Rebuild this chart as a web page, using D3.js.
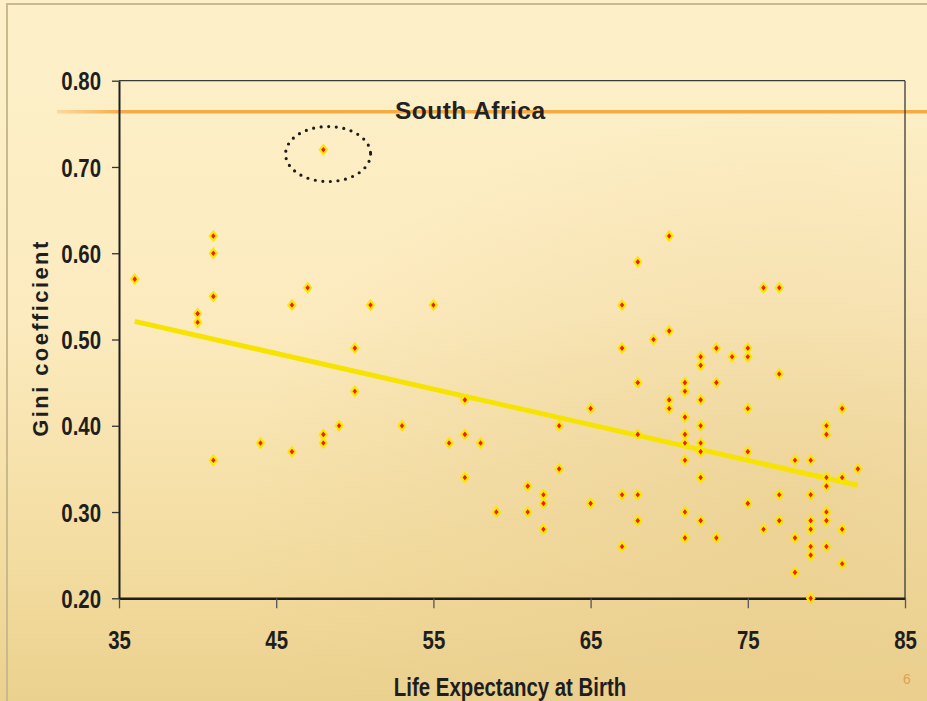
<!DOCTYPE html>
<html>
<head>
<meta charset="utf-8">
<script src="https://cdn.jsdelivr.net/npm/d3@7"></script>
<style>
  body { margin: 0; background: #fdf0c8; }
  svg { display: block; }
  .tick-label { font-family: "Liberation Sans", Arial, sans-serif; font-weight: bold; font-size: 25.5px; fill: #1e1e1e; }
</style>
</head>
<body>
<div id="chart"></div>
<script>
// life expectancy (years) and gini coefficient, one entry per country
const lifeExp = [
  36,
  40, 40,
  41, 41, 41, 41,
  44,
  46, 46,
  47,
  48, 48, 48,
  49,
  50, 50,
  51,
  53,
  55,
  56,
  57, 57, 57,
  58,
  59,
  61, 61,
  62, 62, 62,
  63, 63,
  65, 65,
  67, 67, 67, 67,
  68, 68, 68, 68, 68,
  69,
  70, 70, 70, 70,
  71, 71, 71, 71, 71, 71, 71, 71,
  72, 72, 72, 72, 72, 72, 72, 72,
  73, 73, 73,
  74,
  75, 75, 75, 75, 75,
  76, 76,
  77, 77, 77, 77,
  78, 78, 78,
  79, 79, 79, 79, 79, 79, 79,
  80, 80, 80, 80, 80, 80, 80,
  81, 81, 81, 81,
  82
];
const gini = [
  0.57,
  0.53, 0.52,
  0.62, 0.60, 0.55, 0.36,
  0.38,
  0.54, 0.37,
  0.56,
  0.72, 0.39, 0.38,
  0.40,
  0.49, 0.44,
  0.54,
  0.40,
  0.54,
  0.38,
  0.43, 0.39, 0.34,
  0.38,
  0.30,
  0.33, 0.30,
  0.32, 0.31, 0.28,
  0.40, 0.35,
  0.42, 0.31,
  0.54, 0.49, 0.32, 0.26,
  0.59, 0.45, 0.39, 0.32, 0.29,
  0.50,
  0.62, 0.51, 0.43, 0.42,
  0.45, 0.44, 0.41, 0.39, 0.38, 0.36, 0.30, 0.27,
  0.48, 0.47, 0.43, 0.40, 0.38, 0.37, 0.34, 0.29,
  0.49, 0.45, 0.27,
  0.48,
  0.49, 0.48, 0.42, 0.37, 0.31,
  0.56, 0.28,
  0.56, 0.46, 0.32, 0.29,
  0.36, 0.27, 0.23,
  0.36, 0.32, 0.29, 0.28, 0.26, 0.25, 0.20,
  0.40, 0.39, 0.34, 0.33, 0.30, 0.29, 0.26,
  0.42, 0.34, 0.28, 0.24,
  0.35
];
// fitted trend line end points
const trendX = [36, 82];
const trendY = [0.521, 0.331];
// reference line for South Africa and the circled point
const southAfricaGini = 0.764;
const circled = { x: 48.3, y: 0.715 };
const xTicks = [35, 45, 55, 65, 75, 85];
const yTicks = [0.20, 0.30, 0.40, 0.50, 0.60, 0.70, 0.80];

const W = 927, H = 701;
const margin = { top: 80.7, right: 22, bottom: 102.7, left: 119 };
const width = W - margin.left - margin.right;
const height = H - margin.top - margin.bottom;
const narrow = 0.8; // squeeze bold sans to look like a narrow face

const svg = d3.select('#chart').append('svg')
  .attr('width', W)
  .attr('height', H);

// background, light cream fading to tan at the bottom
const defs = svg.append('defs');
const bg = defs.append('linearGradient').attr('id', 'bg')
  .attr('x1', 0).attr('y1', 0).attr('x2', 0).attr('y2', 1);
bg.append('stop').attr('offset', '0%').attr('stop-color', '#fdf0c9');
bg.append('stop').attr('offset', '45%').attr('stop-color', '#fcebbf');
bg.append('stop').attr('offset', '80%').attr('stop-color', '#f3dca0');
bg.append('stop').attr('offset', '100%').attr('stop-color', '#ebd18e');
const glow = defs.append('radialGradient').attr('id', 'glow')
  .attr('cx', 0.85).attr('cy', 0.75).attr('r', 0.6);
glow.append('stop').attr('offset', '0%').attr('stop-color', '#e6c98a').attr('stop-opacity', 0.55);
glow.append('stop').attr('offset', '100%').attr('stop-color', '#e6c98a').attr('stop-opacity', 0);
const fade = defs.append('linearGradient').attr('id', 'fade')
  .attr('gradientUnits', 'userSpaceOnUse')
  .attr('x1', 57).attr('x2', 125).attr('y1', 0).attr('y2', 0);
fade.append('stop').attr('offset', '0%').attr('stop-color', '#fbd9a0');
fade.append('stop').attr('offset', '100%').attr('stop-color', '#f6ab45');

svg.append('rect').attr('width', W).attr('height', H).attr('fill', 'url(#bg)');
svg.append('rect').attr('width', W).attr('height', H).attr('fill', 'url(#glow)');
svg.append('rect')
  .attr('x', 7).attr('y', 4).attr('width', W + 10).attr('height', H + 10)
  .attr('fill', 'none').attr('stroke', '#c9b98c').attr('stroke-width', 2);

const x = d3.scaleLinear().domain([35, 85]).range([0, width]);
const y = d3.scaleLinear().domain([0.20, 0.80]).range([height, 0]);

// South Africa reference line, under everything else
svg.append('line')
  .attr('x1', 57).attr('x2', W)
  .attr('y1', margin.top + y(southAfricaGini)).attr('y2', margin.top + y(southAfricaGini))
  .attr('stroke', 'url(#fade)').attr('stroke-width', 3.5);

const g = svg.append('g')
  .attr('transform', 'translate(' + margin.left + ',' + margin.top + ')');

// frame: thin top and right border
g.append('line').attr('x1', 0).attr('x2', width).attr('y1', 0).attr('y2', 0)
  .attr('stroke', '#3a3a3a').attr('stroke-width', 1.3);
g.append('line').attr('x1', width).attr('x2', width).attr('y1', 0).attr('y2', height)
  .attr('stroke', '#3a3a3a').attr('stroke-width', 1.3);

// axes
const xAxis = g.append('g')
  .attr('transform', 'translate(0,' + height + ')')
  .call(d3.axisBottom(x).tickValues(xTicks).tickSize(10).tickSizeOuter(0).tickFormat(d3.format('d')));
const yAxis = g.append('g')
  .call(d3.axisLeft(y).tickValues(yTicks).tickSize(7).tickSizeOuter(0).tickFormat(d3.format('.2f')));

xAxis.select('.domain').attr('stroke', '#1e1e1e').attr('stroke-width', 2.5);
yAxis.select('.domain').attr('stroke', '#1e1e1e').attr('stroke-width', 2);
xAxis.selectAll('.tick line').attr('stroke', '#555').attr('stroke-width', 1.3);
yAxis.selectAll('.tick line').attr('stroke', '#333').attr('stroke-width', 1.3);
xAxis.selectAll('.tick text').attr('class', 'tick-label').attr('y', 0).attr('dy', 0)
  .attr('transform', 'translate(0,51) scale(' + narrow + ',1)');
yAxis.selectAll('.tick text').attr('class', 'tick-label').attr('x', 0).attr('dy', '0.36em')
  .attr('transform', 'translate(-18,0) scale(' + narrow + ',1)');

g.append('text')
  .attr('x', x(52.55)).attr('y', y(southAfricaGini) + 7.5)
  .attr('font-family', '"Liberation Sans", Arial, sans-serif')
  .attr('font-weight', 'bold').attr('font-size', 24.5)
  .attr('letter-spacing', 0.5)
  .attr('fill', '#222')
  .text('South Africa');

// trend line
g.append('line')
  .attr('x1', x(trendX[0])).attr('y1', y(trendY[0]))
  .attr('x2', x(trendX[1])).attr('y2', y(trendY[1]))
  .attr('stroke', '#f6e400').attr('stroke-width', 5);

// points
const points = lifeExp.map((d, i) => ({ x: d, y: gini[i] }));
const diamond = d3.symbol().type(d3.symbolDiamond).size(26);
g.selectAll('path.pt')
  .data(points)
  .enter().append('path')
  .attr('class', 'pt')
  .attr('d', diamond)
  .attr('transform', d => 'translate(' + x(d.x) + ',' + y(d.y) + ') scale(1.3,0.95)')
  .attr('fill', '#ee1c1c')
  .attr('stroke', '#ffe600')
  .attr('stroke-width', 1.8);

// dotted circle round the outlier
g.append('ellipse')
  .attr('cx', x(circled.x)).attr('cy', y(circled.y))
  .attr('rx', 42.5).attr('ry', 27.5)
  .attr('fill', 'none')
  .attr('stroke', '#1c1c1c').attr('stroke-width', 3.2)
  .attr('stroke-linecap', 'round')
  .attr('stroke-dasharray', '0 7.6');

// axis titles
svg.append('text')
  .attr('transform', 'translate(510,696) scale(' + narrow + ',1)')
  .attr('text-anchor', 'middle')
  .attr('class', 'tick-label')
  .text('Life Expectancy at Birth');
svg.append('text')
  .attr('transform', 'translate(48,338) rotate(-90)')
  .attr('text-anchor', 'middle')
  .attr('font-family', '"Liberation Sans", Arial, sans-serif')
  .attr('font-weight', 'bold').attr('font-size', 22)
  .attr('letter-spacing', 2.4)
  .attr('fill', '#1e1e1e')
  .text('Gini coefficient');

// slide number
svg.append('text')
  .attr('x', 907).attr('y', 684)
  .attr('text-anchor', 'middle')
  .attr('font-family', '"Liberation Sans", Arial, sans-serif')
  .attr('font-size', 14)
  .attr('fill', '#e0a24c')
  .text('6');
</script>
</body>
</html>
